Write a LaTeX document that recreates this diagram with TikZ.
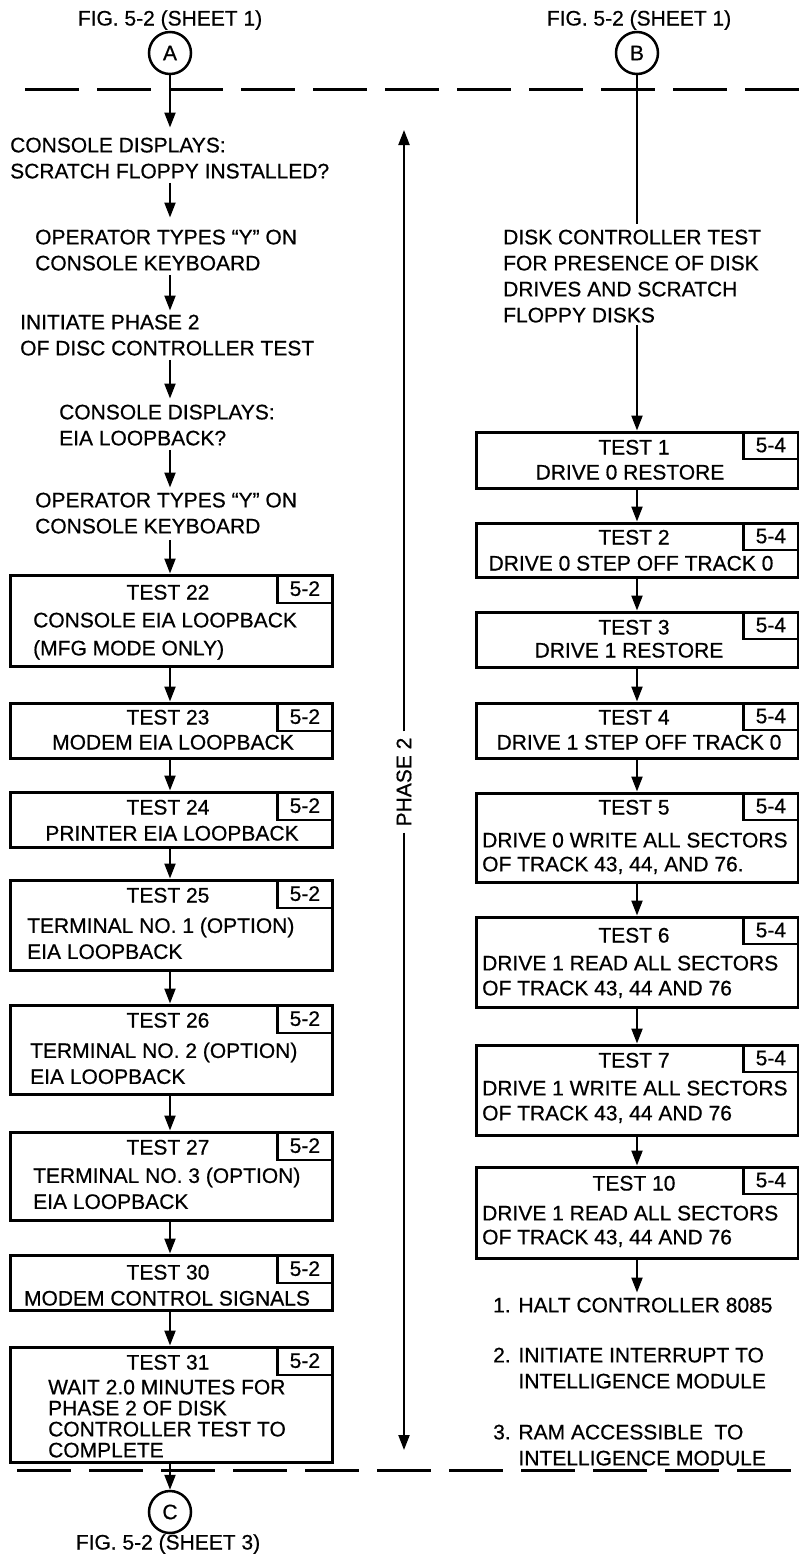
\documentclass[tikz,border=0pt]{standalone}
\usepackage{fontspec}
\setmainfont[FakeBold=0.6]{Liberation Sans}
\usetikzlibrary{arrows.meta,calc}
\newcommand\myfs{\fontsize{21}{26}\selectfont}
\begin{document}
\begin{tikzpicture}[x=1pt,y=-1pt,
  every node/.style={font=\myfs, inner sep=0pt},
  tbox/.style={draw, line width=3pt, minimum width=322pt},
  rbox/.style={draw, line width=2.2pt, minimum width=55pt, minimum height=28pt, anchor=north east},
  one/.style={text height=15pt, text depth=0pt},
  blk/.style={align=left, anchor=north west},
  arr/.style={line width=2.2pt, -{Triangle[length=15pt,width=11pt]}},
  conn/.style={circle, draw, line width=2.5pt, minimum size=42pt},
  sepline/.style={line width=3pt, dash pattern=on 54pt off 18pt}]
\useasboundingbox (0,0) rectangle (799,1564);

% captions and connectors
\node[one] (capA) at (170,18) {FIG. 5-2 (SHEET 1)};
\node[one] (capB) at (639,18) {FIG. 5-2 (SHEET 1)};
\node[conn] (A) at (170,53) {A};
\node[conn] (B) at (637,53) {B};
\node[conn] (C) at (170,1512) {C};
\node[one] (capC) at (168,1542) {FIG. 5-2 (SHEET 3)};

% dashed separators
\draw[sepline] (25,89) -- (799,89);
\draw[sepline] (17,1470) -- (799,1470);

% left column free texts
\node[blk] (t1) at (10,137.5) {CONSOLE DISPLAYS:\\SCRATCH FLOPPY INSTALLED?};
\node[blk] (t2) at (35,229.5) {OPERATOR TYPES “Y” ON\\CONSOLE KEYBOARD};
\node[blk] (t3) at (20,314.5) {INITIATE PHASE 2\\OF DISC CONTROLLER TEST};
\node[blk] (t4) at (59,404.5) {CONSOLE DISPLAYS:\\EIA LOOPBACK?};
\node[blk] (t5) at (35,492.5) {OPERATOR TYPES “Y” ON\\CONSOLE KEYBOARD};

% left column boxes
\node[tbox, minimum height=91pt] (b22) at (171,620.5) {};
\node[rbox] (r22) at (b22.north east) {5-2};
\node[one] (h22) at (168,592) {TEST 22};
\node[blk] (d22) at (33,612.5) {CONSOLE EIA LOOPBACK\\[2pt](MFG MODE ONLY)};

\node[tbox, minimum height=55pt] (b23) at (171,730.5) {};
\node[rbox] (r23) at (b23.north east) {5-2};
\node[one] (h23) at (168,717) {TEST 23};
\node[one] (d23) at (173,742) {MODEM EIA LOOPBACK};

\node[tbox, minimum height=55pt] (b24) at (171,819.5) {};
\node[rbox] (r24) at (b24.north east) {5-2};
\node[one] (h24) at (168,807) {TEST 24};
\node[one] (d24) at (172,833) {PRINTER EIA LOOPBACK};

\node[tbox, minimum height=90pt] (b25) at (171,925) {};
\node[rbox] (r25) at (b25.north east) {5-2};
\node[one] (h25) at (168,895) {TEST 25};
\node[blk] (d25) at (27,917.5) {TERMINAL NO. 1 (OPTION)\\EIA LOOPBACK};

\node[tbox, minimum height=89pt] (b26) at (171,1049.5) {};
\node[rbox] (r26) at (b26.north east) {5-2};
\node[one] (h26) at (168,1020) {TEST 26};
\node[blk] (d26) at (30,1042.5) {TERMINAL NO. 2 (OPTION)\\EIA LOOPBACK};

\node[tbox, minimum height=88pt] (b27) at (171,1176) {};
\node[rbox] (r27) at (b27.north east) {5-2};
\node[one] (h27) at (168,1147) {TEST 27};
\node[blk] (d27) at (33,1167.5) {TERMINAL NO. 3 (OPTION)\\EIA LOOPBACK};

\node[tbox, minimum height=55pt] (b30) at (171,1282.5) {};
\node[rbox] (r30) at (b30.north east) {5-2};
\node[one] (h30) at (168,1272) {TEST 30};
\node[one] (d30) at (167,1298) {MODEM CONTROL SIGNALS};

\node[tbox, minimum height=115pt] (b31) at (171,1404.5) {};
\node[rbox] (r31) at (b31.north east) {5-2};
\node[one] (h31) at (168,1362) {TEST 31};
\node[blk, font=\fontsize{21}{21}\selectfont] (d31) at (48,1379.5) {WAIT 2.0 MINUTES FOR\\PHASE 2 OF DISK\\CONTROLLER TEST TO\\COMPLETE};

% right column
\node[blk] (tr1) at (503,229.5) {DISK CONTROLLER TEST\\FOR PRESENCE OF DISK\\DRIVES AND SCRATCH\\FLOPPY DISKS};

\node[tbox, minimum height=56pt] (s1) at (637,460) {};
\node[rbox, minimum height=27pt] (q1) at (s1.north east) {5-4};
\node[one] (k1) at (634,447) {TEST 1};
\node[one] (e1) at (630,472) {DRIVE 0 RESTORE};

\node[tbox, minimum height=54pt] (s2) at (637,550) {};
\node[rbox, minimum height=27pt] (q2) at (s2.north east) {5-4};
\node[one] (k2) at (634,537) {TEST 2};
\node[one] (e2) at (631,563) {DRIVE 0 STEP OFF TRACK 0};

\node[tbox, minimum height=55pt] (s3) at (637,639.5) {};
\node[rbox, minimum height=27pt] (q3) at (s3.north east) {5-4};
\node[one] (k3) at (634,627) {TEST 3};
\node[one] (e3) at (629,650) {DRIVE 1 RESTORE};

\node[tbox, minimum height=55pt] (s4) at (637,730.5) {};
\node[rbox, minimum height=27pt] (q4) at (s4.north east) {5-4};
\node[one] (k4) at (634,717) {TEST 4};
\node[one] (e4) at (639,742) {DRIVE 1 STEP OFF TRACK 0};

\node[tbox, minimum height=89pt] (s5) at (637,837.5) {};
\node[rbox, minimum height=27pt] (q5) at (s5.north east) {5-4};
\node[one] (k5) at (634,807) {TEST 5};
\node[blk, font=\fontsize{21}{24}\selectfont] (e5) at (482,832.5) {DRIVE 0 WRITE ALL SECTORS\\OF TRACK 43, 44, AND 76.};

\node[tbox, minimum height=90pt] (s6) at (637,962) {};
\node[rbox, minimum height=27pt] (q6) at (s6.north east) {5-4};
\node[one] (k6) at (634,935) {TEST 6};
\node[blk, font=\fontsize{21}{25}\selectfont] (e6) at (482,955.5) {DRIVE 1 READ ALL SECTORS\\OF TRACK 43, 44 AND 76};

\node[tbox, minimum height=90pt] (s7) at (637,1090) {};
\node[rbox, minimum height=27pt] (q7) at (s7.north east) {5-4};
\node[one] (k7) at (634,1060) {TEST 7};
\node[blk, font=\fontsize{21}{25}\selectfont] (e7) at (482,1080.5) {DRIVE 1 WRITE ALL SECTORS\\OF TRACK 43, 44 AND 76};

\node[tbox, minimum height=91pt] (s10) at (637,1212.5) {};
\node[rbox, minimum height=27pt] (q10) at (s10.north east) {5-4};
\node[one] (k10) at (634,1183) {TEST 10};
\node[blk, font=\fontsize{21}{24}\selectfont] (e10) at (482,1205.5) {DRIVE 1 READ ALL SECTORS\\OF TRACK 43, 44 AND 76};

\node[blk] (g1) at (493,1297.5) {1. HALT CONTROLLER 8085};
\node[blk] (g2) at (493,1347.5) {2. INITIATE INTERRUPT TO\\\hphantom{2. }INTELLIGENCE MODULE};
\node[blk] (g3) at (493,1424.5) {3. RAM ACCESSIBLE\ \ TO\\\hphantom{3. }INTELLIGENCE MODULE};

% phase 2 marker
\node[rotate=90, inner xsep=6pt] (ph) at (404,782) {PHASE 2};
\coordinate (ptop) at (404,130);
\coordinate (pbot) at (404,1450);
\draw[arr] (ph.east) -- (ptop);
\draw[arr] (ph.west) -- (pbot);

% left connectors
\draw[arr, shorten >=10pt] (A.south) -- (A.south |- t1.north);
\draw[arr, shorten <=4pt, shorten >=12pt] (A |- t1.south) -- (A |- t2.north);
\draw[arr, shorten <=4pt, shorten >=4pt] (A |- t2.south) -- (A |- t3.north);
\draw[arr, shorten <=4pt, shorten >=6pt] (A |- t3.south) -- (A |- t4.north);
\draw[arr, shorten <=4pt, shorten >=5pt] (A |- t4.south) -- (A |- t5.north);
\draw[arr, shorten <=6pt] (A |- t5.south) -- (A |- b22.north);
\draw[arr] (A |- b22.south) -- (A |- b23.north);
\draw[arr] (A |- b23.south) -- (A |- b24.north);
\draw[arr] (A |- b24.south) -- (A |- b25.north);
\draw[arr] (A |- b25.south) -- (A |- b26.north);
\draw[arr] (A |- b26.south) -- (A |- b27.north);
\draw[arr] (A |- b27.south) -- (A |- b30.north);
\draw[arr] (A |- b30.south) -- (A |- b31.north);
\draw[arr] (A |- b31.south) -- (C.north);

% right connectors
\draw[line width=2.2pt, shorten >=6pt] (B.south) -- (B.south |- tr1.north);
\draw[arr, shorten <=2pt] (B |- tr1.south) -- (B |- s1.north);
\draw[arr] (B |- s1.south) -- (B |- s2.north);
\draw[arr] (B |- s2.south) -- (B |- s3.north);
\draw[arr] (B |- s3.south) -- (B |- s4.north);
\draw[arr] (B |- s4.south) -- (B |- s5.north);
\draw[arr] (B |- s5.south) -- (B |- s6.north);
\draw[arr] (B |- s6.south) -- (B |- s7.north);
\draw[arr] (B |- s7.south) -- (B |- s10.north);
\draw[arr, shorten >=5pt] (B |- s10.south) -- (B |- g1.north);
\end{tikzpicture}
\end{document}
